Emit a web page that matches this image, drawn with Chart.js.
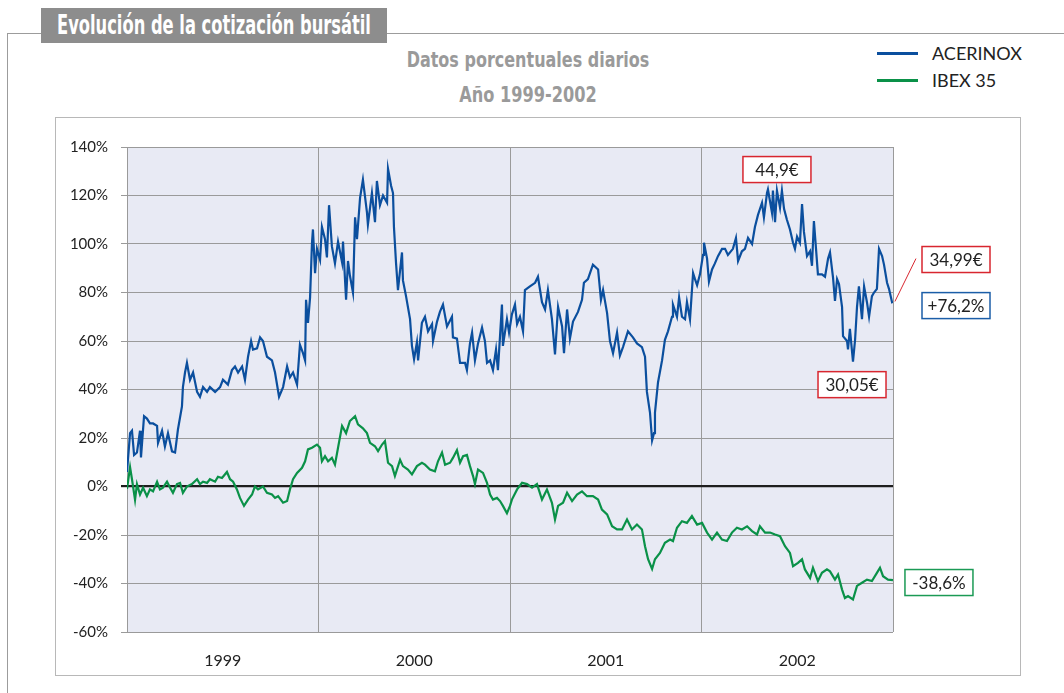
<!DOCTYPE html>
<html>
<head>
<meta charset="utf-8">
<script src="https://cdn.jsdelivr.net/npm/chart.js@4"></script>
<style>
  body { margin: 0; background: #fff; }
  #wrap { position: relative; width: 1064px; height: 693px; overflow: hidden; font-family: Lato, "Open Sans", sans-serif; }
  #frameTop { position: absolute; left: 7px; top: 33px; width: 1060px; height: 0; border-top: 1.5px solid #9c9c9c; }
  #frameLeft { position: absolute; left: 7px; top: 33px; width: 0; height: 670px; border-left: 1.5px solid #9c9c9c; }
  #box { position: absolute; left: 55px; top: 117px; width: 964px; height: 557px; border: 1.5px solid #b8b8b8; }
  #title { position: absolute; left: 41px; top: 8px; width: 346px; height: 35px; background: #8d8d8d; color: #fff;
    font-family: "DejaVu Sans", sans-serif; font-weight: bold; font-size: 26px; line-height: 35px; }
  .sub { position: absolute; left: 328px; width: 400px; height: 26px; color: #9a9a9a;
    font-family: "DejaVu Sans", sans-serif; font-weight: bold; font-size: 21px; line-height: 26px; }
  .fit { position: absolute; left: 50%; top: 0; white-space: nowrap; transform-origin: center center; }
  .leg { position: absolute; left: 877px; width: 160px; height: 24px; font-size: 18px; color: #222; }
  .leg span.ln { position: absolute; left: 0; top: 11px; width: 41px; height: 2.5px; }
  .leg span.tx { position: absolute; left: 55px; top: 0; line-height: 24px; }
  canvas { position: absolute; left: 0; top: 0; }
</style>
</head>
<body>
<div id="wrap">
  <div id="frameTop"></div>
  <div id="frameLeft"></div>
  <div id="box"></div>
  <div id="title"><span class="fit" data-w="314">Evolución de la cotización bursátil</span></div>
  <div class="sub" style="top:47px"><span class="fit" data-w="243">Datos porcentuales diarios</span></div>
  <div class="sub" style="top:82px"><span class="fit" data-w="138">Año 1999-2002</span></div>
  <div class="leg" style="top:41px"><span class="ln" style="background:#0b4f9e"></span><span class="tx">ACERINOX</span></div>
  <div class="leg" style="top:68px"><span class="ln" style="background:#0a9148"></span><span class="tx">IBEX 35</span></div>
  <canvas id="chart" width="1064" height="693"></canvas>
</div>
<script>
// squeeze the heading texts to the condensed widths of the original
document.querySelectorAll('.fit').forEach(function (el) {
  const s = Number(el.dataset.w) / el.offsetWidth;
  el.style.transform = 'translateX(-50%) scaleX(' + s + ')';
});

// years shown under the x axis; time values are years elapsed since 1 Jan 1999
const yearLabels = ['1999', '2000', '2001', '2002'];

const acerinoxTime = [
  0.000, 0.016, 0.026, 0.037, 0.052, 0.068, 0.073, 0.089, 0.104, 0.120, 0.136, 0.157, 0.162, 0.183, 0.198, 0.214,
  0.235, 0.251, 0.266, 0.287, 0.292, 0.303, 0.313, 0.329, 0.345, 0.366, 0.381, 0.397, 0.418, 0.433, 0.460, 0.486,
  0.501, 0.527, 0.548, 0.564, 0.580, 0.601, 0.616, 0.632, 0.648, 0.658, 0.679, 0.695, 0.710, 0.731, 0.757, 0.773,
  0.794, 0.815, 0.836, 0.851, 0.867, 0.888, 0.903, 0.919, 0.930, 0.935, 0.945, 0.956, 0.966, 0.971, 0.982, 0.992,
  1.008, 1.018, 1.034, 1.044, 1.055, 1.070, 1.086, 1.102, 1.123, 1.128, 1.144, 1.154, 1.164, 1.180, 1.191, 1.201,
  1.217, 1.232, 1.253, 1.258, 1.279, 1.295, 1.305, 1.321, 1.337, 1.358, 1.363, 1.379, 1.389, 1.394, 1.405, 1.415,
  1.436, 1.441, 1.457, 1.478, 1.488, 1.499, 1.514, 1.520, 1.540, 1.556, 1.572, 1.593, 1.598, 1.619, 1.634, 1.650,
  1.671, 1.697, 1.702, 1.723, 1.739, 1.765, 1.775, 1.791, 1.802, 1.817, 1.833, 1.854, 1.869, 1.880, 1.896, 1.911,
  1.927, 1.937, 1.958, 1.963, 1.984, 1.995, 2.010, 2.026, 2.037, 2.052, 2.068, 2.078, 2.104, 2.131, 2.146, 2.167,
  2.183, 2.198, 2.219, 2.235, 2.251, 2.272, 2.282, 2.298, 2.313, 2.329, 2.355, 2.376, 2.386, 2.407, 2.433, 2.460,
  2.475, 2.486, 2.507, 2.522, 2.538, 2.559, 2.574, 2.590, 2.616, 2.642, 2.663, 2.689, 2.705, 2.715, 2.731, 2.742,
  2.752, 2.757, 2.773, 2.794, 2.809, 2.825, 2.846, 2.851, 2.872, 2.883, 2.898, 2.914, 2.924, 2.940, 2.956, 2.966,
  2.977, 2.992, 3.008, 3.013, 3.029, 3.039, 3.055, 3.070, 3.086, 3.107, 3.123, 3.138, 3.164, 3.180, 3.191, 3.211,
  3.227, 3.243, 3.264, 3.279, 3.295, 3.316, 3.326, 3.342, 3.347, 3.368, 3.373, 3.384, 3.394, 3.410, 3.420, 3.431,
  3.446, 3.462, 3.478, 3.488, 3.499, 3.514, 3.525, 3.535, 3.551, 3.567, 3.577, 3.587, 3.598, 3.608, 3.629, 3.645,
  3.661, 3.671, 3.687, 3.697, 3.708, 3.718, 3.734, 3.739, 3.760, 3.765, 3.775, 3.791, 3.802, 3.812, 3.822, 3.838,
  3.849, 3.864, 3.875, 3.890, 3.901, 3.916, 3.927, 3.943, 3.953, 3.969, 3.979, 3.995, 4.000
];
const acerinoxValues = [
  6, 22, 23, 13, 14, 23, 12, 29, 28, 26, 26, 25, 18, 23, 16.5, 22,
  14.5, 14, 23.5, 33, 41, 47, 51, 44, 47, 39, 37, 41, 39, 41, 39, 41,
  44, 42, 48, 49.5, 47, 49.5, 44, 53.5, 60, 56.5, 57, 61.5, 60, 53.5, 52, 47,
  37, 41, 49.5, 45, 47, 42, 58.5, 55, 52, 77, 67.5, 78, 100.5, 106, 88, 98,
  93.5, 107, 102, 94.5, 116, 99, 92, 101, 92.5, 101, 77, 93, 87, 80, 111, 102,
  119, 126.5, 113, 108, 121, 109, 126, 116, 120, 117, 131, 124, 121, 107, 92, 81,
  96.5, 85, 78.5, 69, 58, 52.5, 59.5, 52, 67.5, 70, 64, 67, 60, 68, 72, 75,
  66, 70, 61.5, 61, 51, 51, 48, 59, 63.5, 52, 59, 65.5, 60, 51, 52, 48,
  56.5, 48, 75, 58, 69, 63.5, 71, 75, 67, 70, 64, 81, 82.5, 84, 86.5, 76,
  73, 81, 69, 54.5, 74, 66, 55, 73, 61, 68, 72, 77, 84, 85.5, 91.5, 89.5,
  77, 81, 71.5, 60, 55, 63.5, 54, 57.5, 64, 61.5, 59, 57.5, 53.5, 39, 30.5, 19,
  22, 30.5, 43, 52, 60.5, 64, 70, 75, 70, 78, 70, 69, 76, 69, 88, 85.5,
  83, 87.5, 95.5, 100.5, 94, 84.5, 89.5, 92, 95, 98, 98, 95.5, 98, 102.5, 93, 97,
  98, 102.5, 100, 107, 112, 117, 111, 121, 122.5, 113, 122, 109, 122, 115, 122, 114.5,
  110, 106, 100.5, 98, 103, 100.5, 116.5, 105, 95, 97, 91, 109.5, 98, 87.5, 87.5, 86.5,
  94, 96.5, 86, 76.5, 85.5, 83.5, 74, 62, 60, 56.5, 65, 51.5, 60.5, 74, 82.5, 69,
  82.5, 76, 70, 78.5, 80, 81.5, 98, 95, 91.5, 84, 81.5, 76, 76.2
];

const ibexTime = [
  0.000, 0.016, 0.026, 0.042, 0.052, 0.068, 0.084, 0.104, 0.120, 0.136, 0.157, 0.172, 0.188, 0.209, 0.225, 0.240,
  0.261, 0.277, 0.292, 0.313, 0.339, 0.366, 0.381, 0.397, 0.418, 0.433, 0.460, 0.475, 0.496, 0.522, 0.538, 0.554,
  0.574, 0.590, 0.611, 0.632, 0.653, 0.668, 0.684, 0.710, 0.731, 0.757, 0.773, 0.789, 0.815, 0.836, 0.851, 0.867,
  0.888, 0.914, 0.930, 0.945, 0.966, 0.992, 1.008, 1.018, 1.034, 1.050, 1.070, 1.086, 1.102, 1.123, 1.144, 1.164,
  1.191, 1.206, 1.232, 1.253, 1.269, 1.295, 1.311, 1.332, 1.347, 1.363, 1.384, 1.399, 1.426, 1.441, 1.467, 1.488,
  1.514, 1.540, 1.556, 1.582, 1.608, 1.624, 1.645, 1.661, 1.687, 1.702, 1.723, 1.739, 1.755, 1.775, 1.791, 1.807,
  1.817, 1.833, 1.859, 1.880, 1.896, 1.911, 1.932, 1.948, 1.963, 1.984, 2.000, 2.010, 2.037, 2.063, 2.089, 2.115,
  2.141, 2.167, 2.193, 2.219, 2.235, 2.251, 2.277, 2.298, 2.324, 2.350, 2.376, 2.402, 2.433, 2.460, 2.480, 2.507,
  2.533, 2.559, 2.585, 2.611, 2.637, 2.663, 2.689, 2.705, 2.721, 2.742, 2.757, 2.783, 2.809, 2.836, 2.851, 2.872,
  2.898, 2.924, 2.950, 2.977, 3.003, 3.029, 3.055, 3.081, 3.107, 3.133, 3.159, 3.185, 3.211, 3.238, 3.264, 3.290,
  3.305, 3.332, 3.358, 3.384, 3.410, 3.436, 3.462, 3.478, 3.504, 3.525, 3.540, 3.567, 3.582, 3.608, 3.629, 3.655,
  3.671, 3.697, 3.713, 3.734, 3.749, 3.765, 3.791, 3.812, 3.838, 3.864, 3.890, 3.916, 3.932, 3.948, 3.974, 4.000
];
const ibexValues = [
  -1, 8, 3, -5.5, 1, -3.3, -0.5, -4, -1.2, -2, 2, -1.2, -0.5, 2, -0.5, -2.6,
  1, 1.5, -2.6, 0, 1, 3, 1, 2, 1.5, 3, 2, 4, 3.5, 6, 3, 2,
  -1.2, -4.7, -8, -5.4, -3.3, 0, -1.2, 0, -2.6, -3.3, -4.7, -4, -6.7, -6, -1.2, 3,
  5.6, 7.7, 10.4, 15.3, 16, 17.3, 16, 10.4, 12.5, 10.4, 11.8, 9, 16, 25, 22, 27,
  29, 25.6, 24, 22, 18, 16.6, 14.6, 17.3, 18.7, 9.8, 8.4, 4.3, 11, 8.4, 7, 5,
  8.4, 9.8, 9, 7, 6.3, 10.4, 14, 9, 9.8, 11.8, 15, 9.8, 12.5, 13, 8.4, 4.3,
  1, 7, 5.6, 1.5, -3.3, -5.4, -4.7, -6, -8, -11, -8, -5.4, -1.2, 1.5, 1, -0.5,
  1, -5.4, -1.2, -6.7, -13.6, -8, -6.7, -2.6, -6, -3.3, -2, -4, -4, -5.4, -9.5, -11.5,
  -16.4, -17.7, -17.7, -13.6, -17.7, -15.7, -17.7, -24.6, -30, -34, -30, -27.4, -23.2, -21.9, -22.5, -17,
  -14.3, -15, -12.2, -15.7, -15, -19, -21.9, -19, -21.9, -22.5, -19, -17, -17.7, -16.4, -18.4, -19.8,
  -16.4, -19, -19, -19.8, -20.5, -24.6, -27.4, -32.9, -31.5, -30, -34.2, -37.7, -33.5, -39, -35.6, -34.2,
  -35, -38.4, -36.3, -42.5, -46, -45.2, -46.6, -41, -39.7, -38.4, -39, -35.6, -33.5, -37, -38.4, -38.6
];

// callout boxes, placed in chart units
const callouts = [
  { text: '44,9€', x: 3.394, y: 130.7, color: '#d8262f' },
  { text: '34,99€', x: 4.329, y: 93.6, color: '#d8262f' },
  { text: '+76,2%', x: 4.329, y: 74.6, color: '#1b5ea8' },
  { text: '30,05€', x: 3.786, y: 42.0, color: '#d8262f' },
  { text: '-38,6%', x: 4.240, y: -39.6, color: '#1b9a55' }
];

function toPoints(times, values) {
  return times.map(function (t, i) { return { x: t, y: values[i] }; });
}

const plotBackground = {
  id: 'plotBackground',
  beforeDraw(chart) {
    const a = chart.chartArea;
    chart.ctx.save();
    chart.ctx.fillStyle = '#e8eaf4';
    chart.ctx.fillRect(a.left, a.top, a.right - a.left, a.bottom - a.top);
    chart.ctx.restore();
  }
};

const calloutBoxes = {
  id: 'calloutBoxes',
  afterDatasetsDraw(chart) {
    const ctx = chart.ctx;
    const xs = chart.scales.x, ys = chart.scales.y;
    ctx.save();
    // leader line from the last ACERINOX value to its price box
    ctx.strokeStyle = '#d8262f';
    ctx.lineWidth = 1;
    ctx.beginPath();
    ctx.moveTo(xs.getPixelForValue(4.01), ys.getPixelForValue(76.3));
    ctx.lineTo(xs.getPixelForValue(4.12), ys.getPixelForValue(94));
    ctx.stroke();
    ctx.font = '17px Lato';
    ctx.textAlign = 'center';
    ctx.textBaseline = 'middle';
    callouts.forEach(function (c) {
      const cx = xs.getPixelForValue(c.x), cy = ys.getPixelForValue(c.y);
      const w = 68, h = 26;
      ctx.fillStyle = '#fff';
      ctx.fillRect(cx - w / 2, cy - h / 2, w, h);
      ctx.strokeStyle = c.color;
      ctx.lineWidth = 1.5;
      ctx.strokeRect(cx - w / 2, cy - h / 2, w, h);
      ctx.fillStyle = '#222';
      ctx.fillText(c.text, cx, cy + 1);
    });
    ctx.restore();
  }
};

new Chart('chart', {
  type: 'line',
  data: {
    datasets: [{
      label: 'IBEX 35',
      data: toPoints(ibexTime, ibexValues),
      borderColor: '#0a9148',
      borderWidth: 2.2,
      pointRadius: 0,
      tension: 0
    }, {
      label: 'ACERINOX',
      data: toPoints(acerinoxTime, acerinoxValues),
      borderColor: '#0b4f9e',
      borderWidth: 2.2,
      pointRadius: 0,
      tension: 0
    }]
  },
  options: {
    responsive: false,
    animation: false,
    layout: { padding: { left: 0, top: 147, right: 171, bottom: 21 } },
    plugins: { legend: { display: false }, tooltip: { enabled: false } },
    scales: {
      x: {
        type: 'linear',
        min: 0,
        max: 4,
        afterBuildTicks: function (axis) {
          axis.ticks = [0, 0.5, 1, 1.5, 2, 2.5, 3, 3.5, 4].map(function (v) { return { value: v }; });
        },
        afterFit: function (axis) { axis.height = 40; },
        ticks: {
          autoSkip: false,
          maxRotation: 0,
          padding: 19,
          color: '#222',
          font: { family: 'Lato', size: 16 },
          callback: function (v) { return Number.isInteger(v) ? '' : yearLabels[Math.floor(v)]; }
        },
        grid: {
          drawTicks: false,
          color: function (c) { return Number.isInteger(c.tick.value) ? '#9a9a9a' : 'rgba(0,0,0,0)'; }
        },
        border: { display: false }
      },
      y: {
        min: -60,
        max: 140,
        afterFit: function (axis) { axis.width = 127; },
        ticks: {
          stepSize: 20,
          padding: 13,
          color: '#222',
          font: { family: 'Lato', size: 15 },
          callback: function (v) { return v + '%'; }
        },
        grid: {
          tickLength: 6,
          color: function (c) { return c.tick.value === 0 ? '#1e1e1e' : '#9a9a9a'; },
          lineWidth: function (c) { return c.tick.value === 0 ? 2.2 : 1; }
        },
        border: { display: false }
      }
    }
  },
  plugins: [plotBackground, calloutBoxes]
});
</script>
</body>
</html>
